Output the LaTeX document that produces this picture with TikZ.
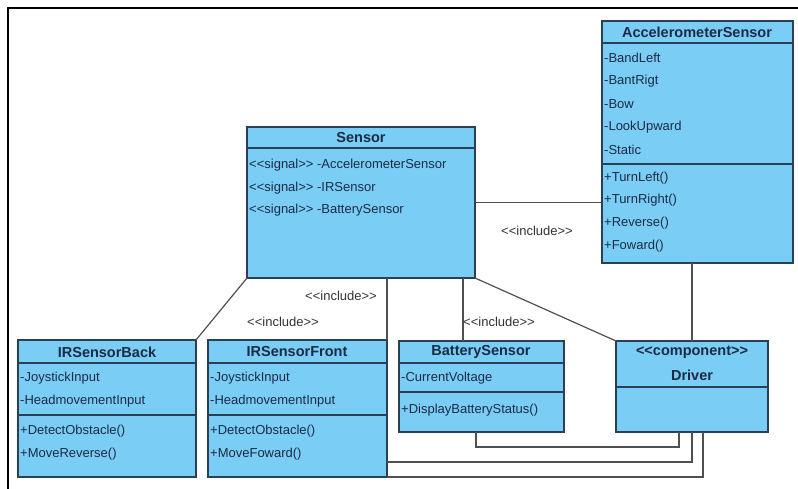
\documentclass[tikz,border=0pt]{standalone}
\usepackage{fontspec}
\setmainfont{Liberation Sans}
\usetikzlibrary{calc}
\definecolor{classfill}{HTML}{7ACDF5}
\definecolor{classline}{HTML}{2B3F55}
\definecolor{classtext}{HTML}{1C2B44}
\definecolor{wire}{HTML}{505050}
\definecolor{labeltext}{HTML}{333333}
% double angle brackets kept as two separate characters
\newcommand\ltlt{<\kern0pt<}
\newcommand\gtgt{>\kern0pt>}
\begin{document}
\begin{tikzpicture}[x=1pt,y=-1pt,
  classbox/.style={draw=classline, fill=classfill, line width=1.3pt,
    anchor=north west, inner sep=0pt, outer sep=0pt},
  sepline/.style={draw=classline, line width=1.3pt},
  title/.style={inner sep=0pt, text=classtext,
    font=\fontsize{14.5}{16}\selectfont\bfseries},
  member/.style={anchor=west, inner sep=0pt, text=classtext,
    font=\fontsize{13}{15}\selectfont},
  wireline/.style={draw=wire, line width=1.2pt},
  rel/.style={inner sep=0pt, text=labeltext, font=\fontsize{13}{15}\selectfont}]
\useasboundingbox (0,0) rectangle (798,489);

% outer frame (only its top and left sides are in view)
\draw[black, line width=2pt] (798,8) -- (8,8) -- (8,489);

% ---- class boxes ----
\node[classbox, minimum width=228pt, minimum height=151pt] (sensor) at (247,127) {};
\node[classbox, minimum width=191pt, minimum height=242pt] (accel) at (602,21) {};
\node[classbox, minimum width=178pt, minimum height=137pt] (irback) at (18,340) {};
\node[classbox, minimum width=179pt, minimum height=137pt] (irfront) at (208,340) {};
\node[classbox, minimum width=165pt, minimum height=91pt] (battery) at (399,341) {};
\node[classbox, minimum width=152pt, minimum height=91pt] (driver) at (616,341) {};

% compartment separators
\draw[sepline] ($(sensor.north west)+(0,21)$) -- ($(sensor.north east)+(0,21)$);
\draw[sepline] ($(accel.north west)+(0,22)$) -- ($(accel.north east)+(0,22)$);
\draw[sepline] ($(accel.north west)+(0,143)$) -- ($(accel.north east)+(0,143)$);
\draw[sepline] ($(irback.north west)+(0,23)$) -- ($(irback.north east)+(0,23)$);
\draw[sepline] ($(irback.north west)+(0,75)$) -- ($(irback.north east)+(0,75)$);
\draw[sepline] ($(irfront.north west)+(0,23)$) -- ($(irfront.north east)+(0,23)$);
\draw[sepline] ($(irfront.north west)+(0,75)$) -- ($(irfront.north east)+(0,75)$);
\draw[sepline] ($(battery.north west)+(0,22)$) -- ($(battery.north east)+(0,22)$);
\draw[sepline] ($(battery.north west)+(0,51)$) -- ($(battery.north east)+(0,51)$);
\draw[sepline] ($(driver.north west)+(0,46)$) -- ($(driver.north east)+(0,46)$);

% ---- Sensor ----
\node[title] (sensorT) at (361,138) {Sensor};
\node[member] (sensorA1) at (249,165) {\ltlt signal\gtgt{} -AccelerometerSensor};
\node[member] (sensorA2) at (249,188) {\ltlt signal\gtgt{} -IRSensor};
\node[member] (sensorA3) at (249,210) {\ltlt signal\gtgt{} -BatterySensor};

% ---- AccelerometerSensor ----
\node[title] (accelT) at (697,32) {AccelerometerSensor};
\node[member] (accelA1) at (604,58) {-BandLeft};
\node[member] (accelA2) at (604,81) {-BantRigt};
\node[member] (accelA3) at (604,104) {-Bow};
\node[member] (accelA4) at (604,127) {-LookUpward};
\node[member] (accelA5) at (604,150) {-Static};
\node[member] (accelM1) at (604,178) {+TurnLeft()};
\node[member] (accelM2) at (604,200) {+TurnRight()};
\node[member] (accelM3) at (604,223) {+Reverse()};
\node[member] (accelM4) at (604,246) {+Foward()};

% ---- IRSensorBack ----
\node[title] (irbackT) at (107,352) {IRSensorBack};
\node[member] (irbackA1) at (20,378) {-JoystickInput};
\node[member] (irbackA2) at (20,401) {-HeadmovementInput};
\node[member] (irbackM1) at (20,431) {+DetectObstacle()};
\node[member] (irbackM2) at (20,454) {+MoveReverse()};

% ---- IRSensorFront ----
\node[title] (irfrontT) at (297,352) {IRSensorFront};
\node[member] (irfrontA1) at (210,378) {-JoystickInput};
\node[member] (irfrontA2) at (210,401) {-HeadmovementInput};
\node[member] (irfrontM1) at (210,431) {+DetectObstacle()};
\node[member] (irfrontM2) at (210,454) {+MoveFoward()};

% ---- BatterySensor ----
\node[title] (batteryT) at (481,352) {BatterySensor};
\node[member] (batteryA1) at (401,378) {-CurrentVoltage};
\node[member] (batteryM1) at (401,410) {+DisplayBatteryStatus()};

% ---- Driver ----
\node[title] (driverS) at (692,352) {\ltlt component\gtgt};
\node[title] (driverT) at (692,375) {Driver};

% ---- connectors ----
\coordinate (batIn) at ($(battery.north west)+(64,0)$);
\coordinate (batOut) at ($(battery.south west)+(77,0)$);
\coordinate (drvIn1) at ($(driver.south west)+(63,0)$);
\coordinate (drvIn3) at ($(driver.south)+(11,0)$);

\draw[wireline] (sensor.south west) -- (irback.north east);
\draw[wireline] (irfront.north east |- sensor.south) -- (irfront.north east);
\draw[wireline] (batIn |- sensor.south) -- (batIn);
\draw[wireline] (sensor.south east) -- (driver.north west);
\draw[wireline] (sensor.east) -- (accel.west |- sensor.east);
\draw[wireline] (driver.north |- accel.south) -- (driver.north);
\draw[wireline] (batOut) -- ++(0,15) -| (drvIn1);
\draw[wireline] ($(irfront.south east)+(0,-15)$) -| (driver.south);
\draw[wireline] (irfront.south east) -| (drvIn3);

% ---- relationship labels ----
\node[rel] (inc1) at (537,231) {\ltlt include\gtgt};
\node[rel] (inc2) at (341,296) {\ltlt include\gtgt};
\node[rel] (inc3) at (283,322) {\ltlt include\gtgt};
\node[rel] (inc4) at (499,322) {\ltlt include\gtgt};
\end{tikzpicture}
\end{document}
